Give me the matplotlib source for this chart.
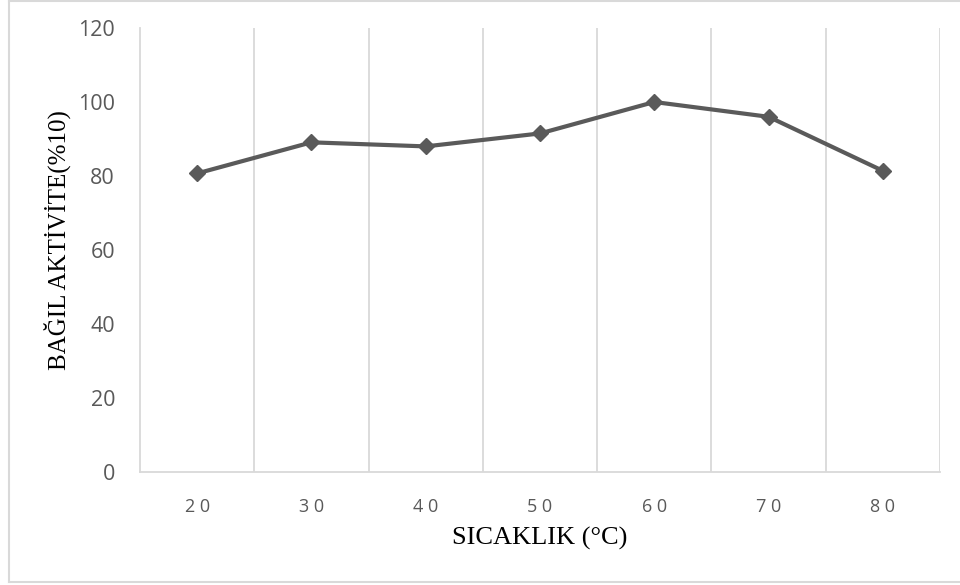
import matplotlib.pyplot as plt
from matplotlib.lines import Line2D
import numpy as np

# sıcaklık - bağıl aktivite verileri
sicaklik = [20, 30, 40, 50, 60, 70, 80]
aktivite = [80.7, 89.1, 88.0, 91.5, 100.0, 96.0, 81.4]
y_ticks = [0, 20, 40, 60, 80, 100, 120]

grid_renk = '#d9d9d9'
yazi_renk = '#595959'
cizgi_renk = '#5a5a5a'

fig = plt.figure(figsize=(9.6, 5.85), dpi=100)
ax = fig.add_axes([140 / 960, 113 / 585, 800 / 960, 444 / 585])

x = np.arange(len(sicaklik))
ax.plot(x, aktivite, color=cizgi_renk, linewidth=3, marker='D',
        markersize=8.5, markerfacecolor=cizgi_renk, markeredgecolor=cizgi_renk,
        zorder=3)

ax.set_xlim(-0.5, len(sicaklik) - 0.5)
ax.set_ylim(0, 120)

# kategori sınırlarında dikey kılavuz çizgileri
ax.set_xticks(x)
ax.set_xticklabels([' '.join(str(s)) for s in sicaklik], fontsize=13,
                   color=yazi_renk, family='Open Sans')
ax.set_xticks(np.arange(0.5, len(sicaklik), 1), minor=True)
ax.grid(True, which='minor', axis='x', color=grid_renk, linewidth=1.3)
ax.tick_params(axis='x', which='both', length=0, pad=19)

ax.set_yticks(y_ticks)
ax.set_yticklabels([str(v) for v in y_ticks], fontsize=15.5, color=yazi_renk,
                   family='Open Sans')
ax.tick_params(axis='y', length=0, pad=18)

for s in ['top', 'right']:
    ax.spines[s].set_visible(False)
for s in ['left', 'bottom']:
    ax.spines[s].set_color(grid_renk)
    ax.spines[s].set_linewidth(1.3)

ax.set_xlabel('SICAKLIK (°C)', fontsize=19, family='Liberation Serif')
ax.set_ylabel('BAĞIL AKTİVİTE(%10)', fontsize=18, family='Liberation Serif')
ax.yaxis.set_label_coords(-69 / 800, 0.5225)
ax.xaxis.set_label_coords(0.5, -55 / 444)

# grafik alanının dış çerçevesi
for xs, ys in [([9, 9], [0, 582]), ([9, 960], [582, 582]), ([9, 960], [1, 1])]:
    fig.add_artist(Line2D([v / 960 for v in xs], [1 - v / 585 for v in ys],
                          color=grid_renk, linewidth=1.5))

fig.savefig('out.png', dpi=100)
